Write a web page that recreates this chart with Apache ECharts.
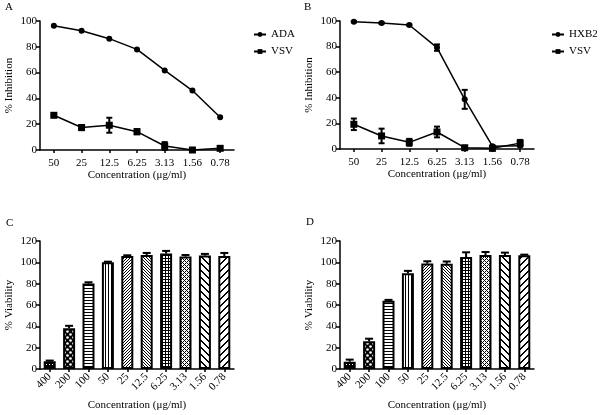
<!DOCTYPE html>
<html>
<head>
<meta charset="utf-8">
<script src="https://cdn.jsdelivr.net/npm/echarts@6/dist/echarts.min.js"></script>
<style>
html,body{margin:0;padding:0;background:#fff;}
#chart{width:600px;height:415px;}
</style>
</head>
<body>
<div id="chart"></div>
<script>
// ---- Data ----
const concInhib = ['50', '25', '12.5', '6.25', '3.13', '1.56', '0.78'];
const concViab = ['400', '200', '100', '50', '25', '12.5', '6.25', '3.13', '1.56', '0.78'];

// Panel A
const adaMean = [96.4, 92.5, 86.3, 78.0, 61.7, 46.1, 25.4];
const vsvAMean = [26.9, 17.4, 19.2, 14.2, 3.1, 0.0, 1.3];
const vsvAErr = [0.8, 2.0, 5.8, 2.0, 3.0, 0.5, 1.0];

// Panel B
const hxb2Mean = [99.5, 98.4, 96.9, 79.2, 38.8, 2.2, 2.6];
const hxb2Err = [0.5, 0.5, 0.5, 2.5, 7.4, 0.5, 0.5];
const vsvBMean = [19.3, 10.2, 5.2, 13.3, 1.0, 0.5, 4.6];
const vsvBErr = [4.5, 5.7, 2.7, 4.2, 0.5, 0.5, 2.5];

// Panel C
const viabCMean = [7.2, 38.3, 80.1, 100.0, 106.0, 106.9, 108.2, 105.4, 106.3, 106.0];
const viabCErr = [0.7, 2.2, 1.2, 0.6, 0.6, 1.9, 2.5, 1.5, 1.6, 2.8];

// Panel D
const viabDMean = [6.9, 25.9, 63.9, 89.8, 98.8, 98.6, 105.0, 106.9, 106.9, 106.6];
const viabDErr = [1.9, 2.5, 0.9, 2.2, 2.2, 2.2, 4.4, 2.8, 2.2, 0.6];

const inhibTicks = [0, 20, 40, 60, 80, 100];
const viabTicks = [0, 20, 40, 60, 80, 100, 120];

// ---- Patterns ----
function makePattern(size, fn, bg) {
  const c = document.createElement('canvas');
  c.width = size; c.height = size;
  const ctx = c.getContext('2d');
  ctx.fillStyle = bg || '#fff';
  ctx.fillRect(0, 0, size, size);
  ctx.fillStyle = '#000';
  for (let y = 0; y < size; y++) for (let x = 0; x < size; x++) {
    if (fn(x, y)) ctx.fillRect(x, y, 1, 1);
  }
  return { image: c, repeat: 'repeat' };
}
function circlePattern() {
  const c = document.createElement('canvas');
  c.width = 6; c.height = 6;
  const ctx = c.getContext('2d');
  ctx.fillStyle = '#000'; ctx.fillRect(0, 0, 6, 6);
  ctx.fillStyle = '#fff';
  ctx.beginPath(); ctx.arc(1.5, 1.5, 1.3, 0, Math.PI * 2); ctx.fill();
  ctx.beginPath(); ctx.arc(4.5, 4.5, 1.3, 0, Math.PI * 2); ctx.fill();
  return { image: c, repeat: 'repeat' };
}
const patterns = [
  makePattern(3, (x, y) => !(x === 1 && y === 1)),               // 400 dark fine
  circlePattern(),                                               // 200 checker dots
  makePattern(3, (x, y) => y === 0),                             // 100 horizontal
  makePattern(3, (x, y) => x === 0),                             // 50 vertical
  makePattern(3, (x, y) => (x + y) % 3 === 0),                   // 25 fine /
  makePattern(3, (x, y) => ((x - y) % 3 + 3) % 3 === 0),         // 12.5 fine \
  makePattern(3, (x, y) => x === 0 || y === 0),                  // 6.25 grid
  makePattern(4, (x, y) => (x + y) % 2 === 0 && !(x === 2 && y === 0) && !(x === 0 && y === 2)), // 3.13 stipple
  makePattern(7, (x, y) => ((x - y) % 7 + 7) % 7 < 2),           // 1.56 wide \
  makePattern(7, (x, y) => (x + y) % 7 < 2)                      // 0.78 wide /
];

// ---- Helpers ----
const FONT = 'Liberation Serif';
const axisLine = { show: true, lineStyle: { color: '#000', width: 1.5 } };

function errorSeries(xi, yi, means, errs, capW, bothSides, name) {
  return {
    type: 'custom',
    name: name,
    xAxisIndex: xi, yAxisIndex: yi,
    z: 5,
    silent: true,
    data: means.map((m, i) => [i, m, errs[i]]),
    renderItem: function (params, api) {
      const i = api.value(0), m = api.value(1), e = api.value(2);
      const top = api.coord([i, m + e]);
      const bot = api.coord([i, bothSides ? m - e : m]);
      const x = top[0];
      const st = { stroke: '#000', lineWidth: 2 };
      const children = [
        { type: 'line', shape: { x1: x, y1: bot[1], x2: x, y2: top[1] }, style: st },
        { type: 'line', shape: { x1: x - capW / 2, y1: top[1], x2: x + capW / 2, y2: top[1] }, style: st }
      ];
      if (bothSides) {
        children.push({ type: 'line', shape: { x1: x - capW / 2, y1: bot[1], x2: x + capW / 2, y2: bot[1] }, style: st });
      }
      return { type: 'group', children: children };
    }
  };
}

function lineSeries(xi, yi, name, data, symbol, size) {
  return {
    type: 'line', name: name, xAxisIndex: xi, yAxisIndex: yi,
    data: data, symbol: symbol, symbolSize: size,
    lineStyle: { color: '#000', width: 1.5 },
    itemStyle: { color: '#000', borderWidth: 0 },
    z: 4, animation: false
  };
}

function barSeries(xi, yi, means) {
  return {
    type: 'bar', xAxisIndex: xi, yAxisIndex: yi,
    barWidth: 12,
    data: means.map((v, i) => ({ value: v, itemStyle: { color: patterns[i] } })),
    itemStyle: { borderColor: '#000', borderWidth: 2 },
    z: 3, animation: false
  };
}

const grids = [
  { left: 40, top: 21, width: 194, height: 129 },
  { left: 340, top: 21, width: 194, height: 128 },
  { left: 40, top: 241, width: 194, height: 128 },
  { left: 340, top: 241, width: 194, height: 128 }
];

function xAxisDef(gi, cats, rotate, nameGap) {
  return {
    type: 'category', gridIndex: gi, data: cats,
    name: 'Concentration (\u03bcg/ml)', nameLocation: 'middle', nameGap: nameGap,
    nameTextStyle: { fontFamily: FONT, fontSize: 11, color: '#000' },
    axisLine: axisLine,
    axisTick: { show: true, alignWithLabel: true, length: 3, lineStyle: { color: '#000', width: 1.5 } },
    axisLabel: { fontFamily: FONT, fontSize: 11, color: '#000', rotate: rotate, interval: 0, margin: rotate ? 6 : 8 },
    splitLine: { show: false }
  };
}
function yAxisDef(gi, ticks, name) {
  return {
    type: 'value', gridIndex: gi, min: ticks[0], max: ticks[ticks.length - 1], interval: ticks[1] - ticks[0],
    name: name, nameLocation: 'middle', nameGap: 25,
    nameTextStyle: { fontFamily: FONT, fontSize: 11, color: '#000' },
    axisLine: axisLine,
    axisTick: { show: true, length: 4, lineStyle: { color: '#000', width: 1.5 } },
    axisLabel: { fontFamily: FONT, fontSize: 11, color: '#000', margin: 3 },
    splitLine: { show: false }
  };
}

const option = {
  backgroundColor: '#fff',
  animation: false,
  textStyle: { fontFamily: FONT },
  graphic: [
    { type: 'text', left: 5, top: 2, style: { text: 'A', font: '11px "Liberation Serif"', fill: '#000' } },
    { type: 'text', left: 304, top: 2, style: { text: 'B', font: '11px "Liberation Serif"', fill: '#000' } },
    { type: 'text', left: 6, top: 218, style: { text: 'C', font: '11px "Liberation Serif"', fill: '#000' } },
    { type: 'text', left: 306, top: 217, style: { text: 'D', font: '11px "Liberation Serif"', fill: '#000' } }
  ],
  legend: [
    { data: ['ADA', 'VSV'], left: 248, top: 24, orient: 'vertical', itemWidth: 12, itemHeight: 6, itemGap: 6,
      textStyle: { fontFamily: FONT, fontSize: 11, color: '#000' } },
    { data: ['HXB2', 'VSV '], left: 546, top: 24, orient: 'vertical', itemWidth: 12, itemHeight: 6, itemGap: 6,
      textStyle: { fontFamily: FONT, fontSize: 11, color: '#000' },
      formatter: n => n.trim() }
  ],
  grid: grids,
  xAxis: [
    xAxisDef(0, concInhib, 0, 19),
    xAxisDef(1, concInhib, 0, 19),
    xAxisDef(2, concViab, 45, 31),
    xAxisDef(3, concViab, 45, 31)
  ],
  yAxis: [
    yAxisDef(0, inhibTicks, '% Inhibition'),
    yAxisDef(1, inhibTicks, '% Inhibition'),
    yAxisDef(2, viabTicks, '% Viability'),
    yAxisDef(3, viabTicks, '% Viability')
  ],
  series: [
    lineSeries(0, 0, 'ADA', adaMean, 'circle', 6),
    lineSeries(0, 0, 'VSV', vsvAMean, 'rect', 7),
    errorSeries(0, 0, vsvAMean, vsvAErr, 6, true, 'errA'),
    lineSeries(1, 1, 'HXB2', hxb2Mean, 'circle', 6),
    lineSeries(1, 1, 'VSV ', vsvBMean, 'rect', 7),
    errorSeries(1, 1, hxb2Mean, hxb2Err, 6, true, 'errB1'),
    errorSeries(1, 1, vsvBMean, vsvBErr, 6, true, 'errB2'),
    barSeries(2, 2, viabCMean),
    errorSeries(2, 2, viabCMean, viabCErr, 8, false, 'errC'),
    barSeries(3, 3, viabDMean),
    errorSeries(3, 3, viabDMean, viabDErr, 8, false, 'errD')
  ]
};

const chart = echarts.init(document.getElementById('chart'), null, { renderer: 'canvas' });
chart.setOption(option);
</script>
</body>
</html>
